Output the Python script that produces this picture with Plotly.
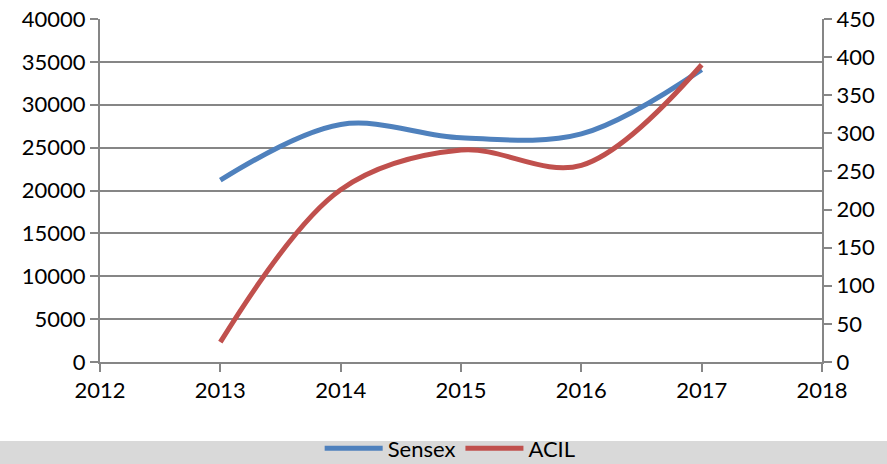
import plotly.graph_objects as go

years = [2013, 2014, 2015, 2016, 2017]
sensex = [21200, 27700, 26150, 26600, 34100]
acil = [26, 226, 278, 258, 390]

grey = "#868686"
font = dict(family="Lato, 'Open Sans', sans-serif", size=22, color="#000000")

fig = go.Figure()
fig.add_trace(go.Scatter(x=years, y=sensex, name="Sensex", mode="lines",
                         line=dict(color="#4F81BD", width=5, shape="spline", smoothing=1.0)))
fig.add_trace(go.Scatter(x=years, y=acil, name="ACIL", mode="lines", yaxis="y2",
                         line=dict(color="#C0504D", width=5, shape="spline", smoothing=1.0)))

fig.update_layout(
    width=887, height=464,
    margin=dict(l=100, r=65, t=19, b=102, autoexpand=False),
    paper_bgcolor="white", plot_bgcolor="white",
    font=font,
    showlegend=True,
    legend=dict(orientation="h", x=0.485, xanchor="center", y=-0.252, yanchor="middle",
                bgcolor="rgba(0,0,0,0)", font=dict(size=22), itemwidth=58,
                tracegroupgap=0),
    xaxis=dict(range=[2012, 2018], tickmode="linear", tick0=2012, dtick=1,
               showgrid=False, zeroline=False, showline=True, linecolor=grey, linewidth=2,
               ticks="outside", ticklen=8, tickcolor=grey, tickwidth=2,
               tickfont=font, automargin=False),
    yaxis=dict(range=[0, 40000], tickmode="linear", dtick=5000, tickformat="d",
               showgrid=True, gridcolor=grey, gridwidth=2, zeroline=False,
               showline=True, linecolor=grey, linewidth=2,
               ticks="outside", ticklen=8, tickcolor=grey, tickwidth=2,
               tickfont=font, automargin=False),
    yaxis2=dict(range=[0, 450], tickmode="linear", dtick=50, tickformat="d",
                overlaying="y", side="right",
                showgrid=False, zeroline=False, showline=True, linecolor=grey, linewidth=2,
                ticks="outside", ticklen=8, tickcolor=grey, tickwidth=2,
                tickfont=font, automargin=False),
    shapes=[dict(type="rect", xref="paper", yref="paper", x0=-0.2, x1=1.2,
                 y0=-0.32, y1=-0.230, fillcolor="#D9D9D9", line=dict(width=0), layer="below")],
)

fig.write_html("out.html", config={"displayModeBar": False},
               post_script="document.body.style.margin='0';document.body.style.overflow='hidden';")
